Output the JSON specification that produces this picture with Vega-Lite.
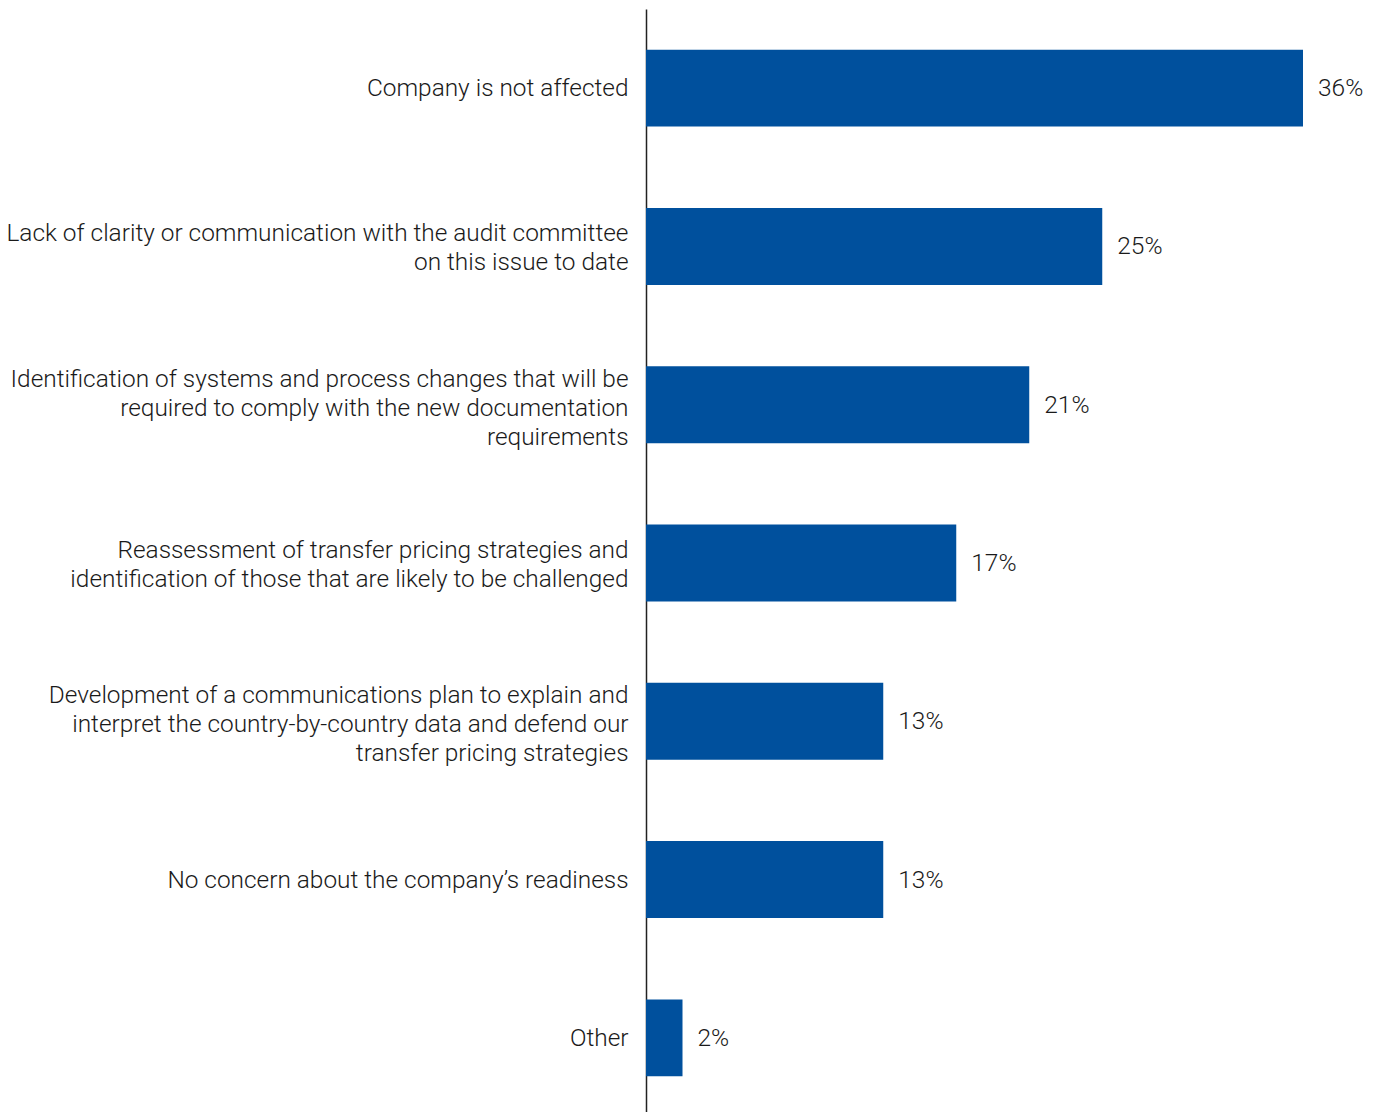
{
  "$schema": "https://vega.github.io/schema/vega-lite/v6.json",
  "autosize": "none",
  "width": 657,
  "height": 1108,
  "padding": {"left": 646, "top": 9, "right": 74, "bottom": 0},
  "background": "white",
  "config": {"view": {"stroke": null}, "font": "Roboto"},
  "data": {
    "values": [
      {"category": "Company is not affected", "value": 36, "label": "36%"},
      {"category": "Lack of clarity or communication with the audit committee|on this issue to date", "value": 25, "label": "25%"},
      {"category": "Identification of systems and process changes that will be|required to comply with the new documentation|requirements", "value": 21, "label": "21%"},
      {"category": "Reassessment of transfer pricing strategies and|identification of those that are likely to be challenged", "value": 17, "label": "17%"},
      {"category": "Development of a communications plan to explain and|interpret the country-by-country data and defend our|transfer pricing strategies", "value": 13, "label": "13%"},
      {"category": "No concern about the company’s readiness", "value": 13, "label": "13%"},
      {"category": "Other", "value": 2, "label": "2%"}
    ]
  },
  "encoding": {
    "y": {
      "field": "category",
      "type": "nominal",
      "sort": null,
      "scale": {"paddingInner": 0.514, "paddingOuter": 0.257},
      "axis": {
        "title": null,
        "ticks": false,
        "domain": true,
        "domainColor": "#222222",
        "domainWidth": 1.5,
        "labelExpr": "split(datum.label, '|')",
        "labelFont": "Roboto",
        "labelFontWeight": 300,
        "labelFontSize": 24.4,
        "labelColor": "#1a1a1a",
        "labelLineHeight": 29,
        "labelPadding": 18,
        "labelLimit": 700,
        "labelOffset": {
          "condition": [
            {"test": "length(split(datum.value, '|')) == 3", "value": -25},
            {"test": "length(split(datum.value, '|')) == 2", "value": -12.5}
          ],
          "value": 1
        }
      }
    },
    "x": {
      "field": "value",
      "type": "quantitative",
      "scale": {"domain": [0, 36], "nice": false},
      "axis": null
    }
  },
  "layer": [
    {"mark": {"type": "bar", "color": "#00509D"}},
    {
      "mark": {"type": "text", "align": "left", "baseline": "middle", "dx": 15, "dy": 1, "fontSize": 24.5, "fontWeight": 300, "font": "Roboto", "color": "#1a1a1a"},
      "encoding": {"text": {"field": "label"}}
    }
  ]
}
